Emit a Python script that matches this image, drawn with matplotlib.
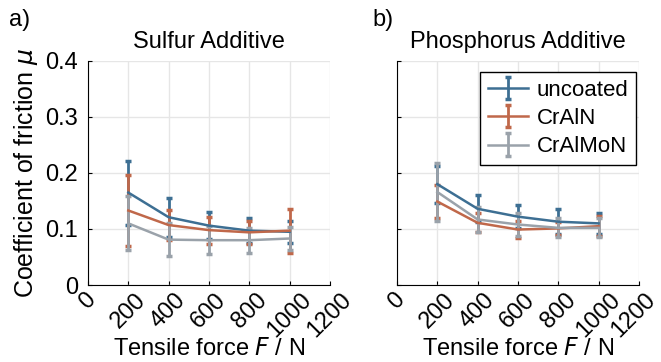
import numpy as np
import matplotlib
matplotlib.use("Agg")
import matplotlib.pyplot as plt
import matplotlib.transforms as mtransforms

plt.rcParams['font.family'] = ['Liberation Sans', 'DejaVu Sans']

force = [200, 400, 600, 800, 1000]
series = ["uncoated", "CrAlN", "CrAlMoN"]
colors = ["#3d6f93", "#c0684a", "#9aa2aa"]

# sulfur additive: mean, error
s_mean = [[0.165, 0.121, 0.106, 0.097, 0.095],
          [0.133, 0.107, 0.098, 0.094, 0.097],
          [0.110, 0.081, 0.080, 0.080, 0.083]]
s_err = [[0.057, 0.035, 0.024, 0.022, 0.020],
         [0.063, 0.027, 0.024, 0.021, 0.039],
         [0.048, 0.030, 0.025, 0.022, 0.020]]

# phosphorus additive
p_mean = [[0.180, 0.136, 0.122, 0.113, 0.110],
          [0.149, 0.111, 0.099, 0.101, 0.105],
          [0.166, 0.117, 0.108, 0.102, 0.102]]
p_err = [[0.033, 0.024, 0.021, 0.022, 0.019],
         [0.030, 0.017, 0.015, 0.011, 0.018],
         [0.051, 0.022, 0.020, 0.017, 0.017]]

fig = plt.figure(figsize=(6.61, 3.62), dpi=100)
ax1 = fig.add_axes([0.1331, 0.2127, 0.366, 0.619])
ax2 = fig.add_axes([0.6006, 0.2127, 0.366, 0.619])

for ax, means, errs, title in [(ax1, s_mean, s_err, "Sulfur Additive"),
                               (ax2, p_mean, p_err, "Phosphorus Additive")]:
    for name, c, m, e in zip(series, colors, means, errs):
        ax.errorbar(force, m, yerr=e, color=c, lw=1.8, elinewidth=2,
                    capsize=2.5, capthick=2.5, label=name)
    ax.set_xlim(0, 1200)
    ax.set_ylim(0, 0.4)
    ax.set_xticks([0, 200, 400, 600, 800, 1000, 1200])
    ax.set_yticks([0, 0.1, 0.2, 0.3, 0.4])
    ax.set_xticklabels(["0", "200", "400", "600", "800", "1000", "1200"],
                       rotation=45, ha="center", va="top", fontsize=15)
    ax.grid(True, color="#e6e6e6", lw=1)
    ax.set_axisbelow(True)
    for s in ["top", "right"]:
        ax.spines[s].set_visible(False)
    ax.tick_params(direction="in", length=3, labelsize=17)
    ax.tick_params(axis="y", pad=7)
    ax.tick_params(axis="x", pad=3)
    ax.set_xlabel(r"Tensile force $\it{F}$ / N", fontsize=17, labelpad=-3)
    ax.set_title(title, fontsize=17, pad=9)

# keep the last label inside the figure
last = ax2.get_xticklabels()[-1]
last.set_transform(last.get_transform() +
                   mtransforms.ScaledTranslation(-4 / 72, 0, fig.dpi_scale_trans))

ax1.set_yticklabels(["0", "0.1", "0.2", "0.3", "0.4"])
ax2.set_yticklabels([])
ax1.set_ylabel(r"Coefficient of friction $\it{\mu}$", fontsize=18, labelpad=4)

ax2.legend(loc="upper right", bbox_to_anchor=(0.988, 0.951), fontsize=16,
           frameon=True, fancybox=False, edgecolor="black", framealpha=1,
           handlelength=1.8, borderaxespad=0, labelspacing=0.33,
           handletextpad=0.4, borderpad=0.35)

fig.text(0.014, 0.975, "a)", fontsize=17, va="top")
fig.text(0.563, 0.975, "b)", fontsize=17, va="top")

fig.savefig("out.png", dpi=100)
